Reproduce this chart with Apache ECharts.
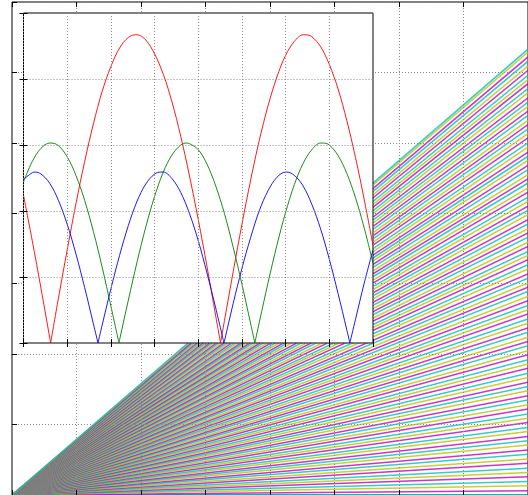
<!DOCTYPE html>
<html>
<head>
<meta charset="utf-8">
<script src="https://cdn.jsdelivr.net/npm/echarts@6/dist/echarts.min.js"></script>
<style>html,body{margin:0;padding:0;background:#fff;}#c{width:528px;height:495px;}</style>
</head>
<body>
<div id="c"></div>
<script>
// Outer axes: fan of straight lines from the origin; value of each line at x = 8
const fanEnds = [0.00,0.06,0.13,0.19,0.26,0.32,0.38,0.45,0.51,0.58,0.64,0.71,0.77,0.83,0.90,0.96,1.03,1.09,1.15,1.22,
1.28,1.35,1.41,1.48,1.54,1.60,1.67,1.73,1.80,1.86,1.92,1.99,2.05,2.12,2.18,2.24,2.31,2.37,2.44,2.50,
2.57,2.63,2.69,2.76,2.82,2.89,2.95,3.01,3.08,3.14,3.21,3.27,3.34,3.40,3.46,3.53,3.59,3.66,3.72,3.78,
3.85,3.91,3.98,4.04,4.10,4.17,4.23,4.30,4.36,4.43,4.49,4.55,4.62,4.68,4.75,4.81,4.87,4.94,5.00,5.07,
5.13,5.20,5.26,5.32,5.39,5.45,5.52,5.58,5.64,5.71,5.77,5.84,5.90,5.96,6.03,6.09,6.16,6.22,6.29,6.33];
const fanStartX = 0, fanEndX = 8;
const fanColors = ['#00bfbf', '#bf00bf', '#bfbf00'];

// Inset curves
const insetX = [0,0.2,0.4,0.6,0.8,1.0,1.2,1.4,1.6,1.8,2.0,2.2,2.4,2.6,2.8,3.0,3.2,3.4,3.6,3.8,
4.0,4.2,4.4,4.6,4.8,5.0,5.2,5.4,5.6,5.8,6.0,6.2,6.4,6.6,6.8,7.0,7.2,7.4,7.6,7.8,8.0];
const redY = [2.24,1.55,0.83,0.08,0.68,1.41,2.11,2.75,3.32,3.81,4.19,4.47,4.63,4.67,4.59,4.38,4.07,3.65,3.13,2.53,
1.87,1.16,0.41,0.34,1.08,1.80,2.47,3.08,3.60,4.03,4.36,4.57,4.67,4.64,4.49,4.22,3.85,3.37,2.81,2.17,1.48];
const redExtra = [[0.62,0],[2.565,4.67],[4.51,0],[6.455,4.67]];
const greenY = [2.44,2.75,2.95,3.03,2.99,2.82,2.54,2.16,1.69,1.15,0.56,0.05,0.65,1.23,1.76,2.22,2.59,2.85,3.00,3.02,
2.93,2.71,2.38,1.96,1.45,0.89,0.29,0.32,0.92,1.48,1.98,2.40,2.72,2.93,3.03,3.00,2.84,2.57,2.20,1.74,1.21];
const greenExtra = [[0.63,3.03],[2.185,0],[3.74,3.03],[5.295,0],[6.85,3.03]];
const blueY = [2.48,2.58,2.56,2.42,2.16,1.80,1.35,0.84,0.29,0.27,0.82,1.33,1.78,2.15,2.41,2.56,2.59,2.49,2.28,1.96,
1.55,1.06,0.53,0.03,0.60,1.13,1.60,2.01,2.31,2.51,2.59,2.54,2.38,2.10,1.73,1.27,0.75,0.20,0.36,0.91,1.41];
const blueExtra = [[0.263,2.59],[1.705,0],[3.146,2.59],[4.588,0],[6.029,2.59],[7.47,0]];

// Merge samples with the read-off zeros/peaks; break the line at each zero so each hump is smoothed on its own
function merge(xs, ys, extra) {
  const pts = xs.map((x, i) => [x, ys[i]]).concat(extra);
  pts.sort((a, b) => a[0] - b[0]);
  const out = [];
  pts.forEach(p => {
    out.push(p);
    if (p[1] === 0) { out.push([p[0], null]); out.push(p); }
  });
  return out;
}

const grid = {type: [1, 2], color: '#8a8a8a', width: 1};
const tick = {show: true, inside: true, length: 5, lineStyle: {color: '#000', width: 1}};
const tickIn = {show: true, inside: true, length: 4, lineStyle: {color: '#000', width: 1}};

const series = [];
fanEnds.forEach((v, i) => {
  series.push({
    type: 'line', xAxisIndex: 0, yAxisIndex: 0, symbol: 'none', silent: true, z: 2,
    lineStyle: {color: fanColors[i % 3], width: 1.5, opacity: 0.8},
    data: [[fanStartX, 0], [fanEndX, v]]
  });
});
[['#ff0000', merge(insetX, redY, redExtra)], ['#008000', merge(insetX, greenY, greenExtra)], ['#0000ff', merge(insetX, blueY, blueExtra)]]
.forEach(([c, d]) => {
  series.push({type: 'line', xAxisIndex: 2, yAxisIndex: 1, symbol: 'none', silent: true, z: 11,
    smooth: 0.35, connectNulls: false,
    lineStyle: {color: c, width: 1, opacity: 0.9}, data: d});
});

const chart = echarts.init(document.getElementById('c'), null, {renderer: 'canvas'});
chart.setOption({
  animation: false,
  backgroundColor: '#fff',
  grid: [
    {left: 12, top: 2, width: 522, height: 494, show: true, borderColor: '#000', borderWidth: 1, backgroundColor: 'transparent', z: 0},
    {left: 23.5, top: 13, width: 349.5, height: 330, show: true, borderColor: '#000', borderWidth: 1, backgroundColor: '#fff', z: 10}
  ],
  xAxis: [
    {gridIndex: 0, type: 'value', min: 0, max: 8, interval: 1, position: 'bottom', z: 3,
      axisLine: {show: false}, axisTick: tick, axisLabel: {show: false}, splitLine: {show: true, lineStyle: grid}},
    {gridIndex: 0, type: 'value', min: 0, max: 8, interval: 1, position: 'top', z: 3,
      axisLine: {show: false}, axisTick: tick, axisLabel: {show: false}, splitLine: {show: false}},
    {gridIndex: 1, type: 'value', min: 0, max: 8, interval: 1, position: 'bottom', z: 12,
      axisLine: {show: false}, axisTick: tickIn, axisLabel: {show: false}, splitLine: {show: true, lineStyle: grid}},
    {gridIndex: 1, type: 'value', min: 0, max: 8, interval: 1, position: 'top', z: 12,
      axisLine: {show: false}, axisTick: tickIn, axisLabel: {show: false}, splitLine: {show: false}}
  ],
  yAxis: [
    {gridIndex: 0, type: 'value', min: 0, max: 7, interval: 1, position: 'left', z: 3,
      axisLine: {show: false}, axisTick: tick, axisLabel: {show: false}, splitLine: {show: true, lineStyle: grid}},
    {gridIndex: 1, type: 'value', min: 0, max: 5, interval: 1, position: 'left', z: 12,
      axisLine: {show: false}, axisTick: tickIn, axisLabel: {show: false}, splitLine: {show: true, lineStyle: grid}},
    {gridIndex: 1, type: 'value', min: 0, max: 5, interval: 1, position: 'right', z: 12,
      axisLine: {show: false}, axisTick: tickIn, axisLabel: {show: false}, splitLine: {show: false}}
  ],
  series: series
});
</script>
</body>
</html>
